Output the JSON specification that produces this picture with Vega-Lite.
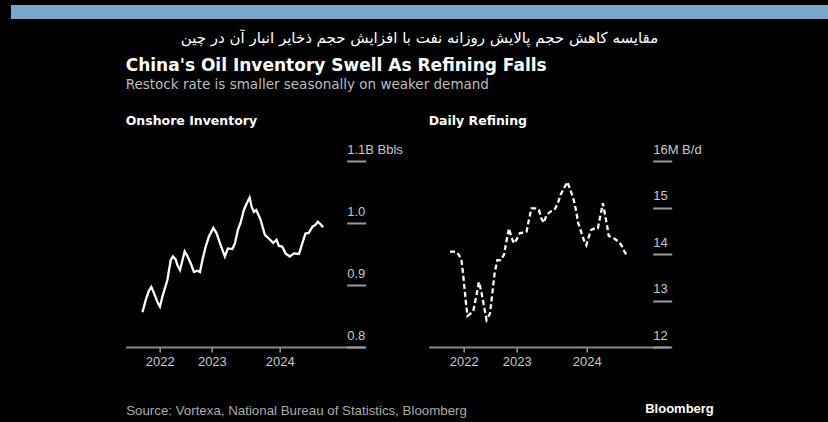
{
  "$schema": "https://vega.github.io/schema/vega-lite/v6.json",
  "background": "black",
  "padding": {"left": 11, "top": 5, "right": 0, "bottom": 8},
  "spacing": 11,
  "center": true,
  "datasets": {
    "inventory": [
      {"date": "2021-12-24", "value": 0.856},
      {"date": "2022-01-11", "value": 0.876},
      {"date": "2022-01-28", "value": 0.891},
      {"date": "2022-02-10", "value": 0.897},
      {"date": "2022-02-24", "value": 0.887},
      {"date": "2022-03-18", "value": 0.870},
      {"date": "2022-03-28", "value": 0.865},
      {"date": "2022-04-10", "value": 0.881},
      {"date": "2022-04-24", "value": 0.895},
      {"date": "2022-05-07", "value": 0.908},
      {"date": "2022-05-25", "value": 0.940},
      {"date": "2022-06-06", "value": 0.946},
      {"date": "2022-06-21", "value": 0.941},
      {"date": "2022-06-30", "value": 0.932},
      {"date": "2022-07-14", "value": 0.924},
      {"date": "2022-07-27", "value": 0.940},
      {"date": "2022-08-08", "value": 0.954},
      {"date": "2022-08-22", "value": 0.947},
      {"date": "2022-09-09", "value": 0.935},
      {"date": "2022-09-27", "value": 0.921},
      {"date": "2022-10-15", "value": 0.923},
      {"date": "2022-10-29", "value": 0.921},
      {"date": "2022-11-11", "value": 0.940},
      {"date": "2022-11-29", "value": 0.962},
      {"date": "2022-12-16", "value": 0.978},
      {"date": "2023-01-09", "value": 0.992},
      {"date": "2023-01-27", "value": 0.983},
      {"date": "2023-02-14", "value": 0.967},
      {"date": "2023-03-12", "value": 0.946},
      {"date": "2023-03-28", "value": 0.959},
      {"date": "2023-04-21", "value": 0.958},
      {"date": "2023-05-05", "value": 0.967},
      {"date": "2023-05-21", "value": 0.989},
      {"date": "2023-06-04", "value": 1.000},
      {"date": "2023-06-22", "value": 1.021},
      {"date": "2023-07-11", "value": 1.034},
      {"date": "2023-07-23", "value": 1.041},
      {"date": "2023-08-03", "value": 1.026},
      {"date": "2023-08-15", "value": 1.018},
      {"date": "2023-08-28", "value": 1.021},
      {"date": "2023-09-20", "value": 1.005},
      {"date": "2023-10-13", "value": 0.981},
      {"date": "2023-11-03", "value": 0.975},
      {"date": "2023-11-27", "value": 0.968},
      {"date": "2023-12-15", "value": 0.973},
      {"date": "2023-12-27", "value": 0.963},
      {"date": "2024-01-14", "value": 0.962},
      {"date": "2024-02-01", "value": 0.951},
      {"date": "2024-02-24", "value": 0.946},
      {"date": "2024-03-17", "value": 0.951},
      {"date": "2024-04-13", "value": 0.950},
      {"date": "2024-05-01", "value": 0.967},
      {"date": "2024-05-18", "value": 0.983},
      {"date": "2024-06-05", "value": 0.984},
      {"date": "2024-06-24", "value": 0.994},
      {"date": "2024-07-11", "value": 0.997},
      {"date": "2024-07-23", "value": 1.002},
      {"date": "2024-08-07", "value": 0.998},
      {"date": "2024-08-21", "value": 0.993}
    ],
    "refining": [
      {"date": "2022-01-17", "value": 14.05},
      {"date": "2022-02-16", "value": 14.05},
      {"date": "2022-03-05", "value": 13.98},
      {"date": "2022-03-18", "value": 13.87},
      {"date": "2022-03-28", "value": 13.51},
      {"date": "2022-04-09", "value": 13.01},
      {"date": "2022-04-18", "value": 12.67},
      {"date": "2022-05-05", "value": 12.72},
      {"date": "2022-05-19", "value": 12.78},
      {"date": "2022-06-06", "value": 13.15},
      {"date": "2022-06-17", "value": 13.40},
      {"date": "2022-06-30", "value": 13.19},
      {"date": "2022-07-14", "value": 12.87},
      {"date": "2022-07-27", "value": 12.58},
      {"date": "2022-08-14", "value": 12.72},
      {"date": "2022-08-26", "value": 13.15},
      {"date": "2022-09-07", "value": 13.58},
      {"date": "2022-09-21", "value": 13.87},
      {"date": "2022-10-08", "value": 13.87},
      {"date": "2022-10-26", "value": 13.98},
      {"date": "2022-11-09", "value": 14.30},
      {"date": "2022-11-21", "value": 14.55},
      {"date": "2022-12-03", "value": 14.37},
      {"date": "2022-12-17", "value": 14.23},
      {"date": "2023-01-01", "value": 14.32},
      {"date": "2023-01-17", "value": 14.45},
      {"date": "2023-02-07", "value": 14.46},
      {"date": "2023-02-21", "value": 14.48},
      {"date": "2023-03-05", "value": 14.73},
      {"date": "2023-03-18", "value": 14.98},
      {"date": "2023-04-09", "value": 14.98},
      {"date": "2023-04-26", "value": 14.95},
      {"date": "2023-05-09", "value": 14.77},
      {"date": "2023-05-22", "value": 14.67},
      {"date": "2023-06-05", "value": 14.84},
      {"date": "2023-06-26", "value": 14.91},
      {"date": "2023-07-17", "value": 14.95},
      {"date": "2023-08-03", "value": 15.09},
      {"date": "2023-08-17", "value": 15.27},
      {"date": "2023-09-04", "value": 15.41},
      {"date": "2023-09-21", "value": 15.55},
      {"date": "2023-10-05", "value": 15.41},
      {"date": "2023-10-23", "value": 15.20},
      {"date": "2023-11-04", "value": 14.98},
      {"date": "2023-11-18", "value": 14.66},
      {"date": "2023-12-05", "value": 14.45},
      {"date": "2023-12-17", "value": 14.30},
      {"date": "2023-12-30", "value": 14.19},
      {"date": "2024-01-12", "value": 14.37},
      {"date": "2024-01-24", "value": 14.52},
      {"date": "2024-02-12", "value": 14.55},
      {"date": "2024-02-28", "value": 14.55},
      {"date": "2024-03-13", "value": 14.84},
      {"date": "2024-03-25", "value": 15.09},
      {"date": "2024-04-04", "value": 14.88},
      {"date": "2024-04-17", "value": 14.59},
      {"date": "2024-04-25", "value": 14.39},
      {"date": "2024-05-21", "value": 14.34},
      {"date": "2024-06-16", "value": 14.26},
      {"date": "2024-06-30", "value": 14.19},
      {"date": "2024-07-16", "value": 14.05},
      {"date": "2024-07-30", "value": 13.96}
    ]
  },
  "config": {
    "font": "Liberation Sans",
    "view": {"stroke": null},
    "axis": {
      "grid": false,
      "labelFont": "Liberation Sans",
      "labelFontSize": 13,
      "labelColor": "#c8c8c8",
      "tickColor": "#9a9a9a",
      "domainColor": "#8a8a8a",
      "labelFlush": false,
      "labelOverlap": false,
      "labelBound": false,
      "titleFont": "Liberation Sans"
    },
    "title": {"font": "DejaVu Sans", "subtitleFont": "DejaVu Sans"}
  },
  "vconcat": [
    {
      "width": 817,
      "height": 14,
      "view": {"fill": "#7ba7cb", "stroke": null},
      "title": {
        "text": "مقایسه کاهش حجم پالایش روزانه نفت با افزایش حجم ذخایر انبار آن در چین",
        "orient": "bottom",
        "anchor": "middle",
        "font": "DejaVu Sans",
        "fontSize": 15,
        "fontWeight": "normal",
        "color": "white",
        "offset": 12
      },
      "data": {"values": [{}]},
      "mark": {"type": "text"},
      "encoding": {"text": {"value": ""}}
    },
    {
      "title": {
        "text": "China's Oil Inventory Swell As Refining Falls",
        "subtitle": "Restock rate is smaller seasonally on weaker demand",
        "anchor": "start",
        "fontSize": 17,
        "fontWeight": "bold",
        "color": "white",
        "subtitleFontSize": 13.5,
        "subtitleColor": "#bdbdbd",
        "subtitlePadding": 3,
        "offset": 22
      },
      "bounds": "flush",
      "spacing": 65,
      "hconcat": [
        {
          "width": 238,
          "height": 186,
          "title": {"text": "Onshore Inventory", "anchor": "start", "fontSize": 12.5, "fontWeight": "bold", "color": "white", "offset": 16},
          "data": {"name": "inventory"},
          "mark": {"type": "line", "color": "white", "strokeWidth": 2.3},
          "encoding": {
            "x": {
              "field": "date",
              "type": "temporal",
              "scale": {"domain": [{"year": 2021, "month": 9, "date": 25}, {"year": 2025, "month": 3, "date": 27}], "nice": false},
              "axis": {
                "values": [{"year": 2022, "month": 3, "date": 27}, {"year": 2023, "month": 1, "date": 1}, {"year": 2024, "month": 1, "date": 1}],
                "labelExpr": "timeFormat(datum.value, '%Y')",
                "tickSize": 5,
                "tickWidth": 1.5,
                "labelPadding": 3,
                "domainWidth": 2,
                "title": "Source: Vortexa, National Bureau of Statistics, Bloomberg",
                "titleAnchor": "start",
                "titleAlign": "left",
                "titleFontSize": 13.3,
                "titleFontWeight": "normal",
                "titleColor": "#aaaaaa",
                "titlePadding": 35
              }
            },
            "y": {
              "field": "value",
              "type": "quantitative",
              "scale": {"domain": [0.8, 1.1], "nice": false, "zero": false},
              "axis": {
                "orient": "right",
                "values": [0.8, 0.9, 1.0, 1.1],
                "offset": -17,
                "tickSize": 19,
                "tickWidth": 2,
                "domain": false,
                "labelAlign": "left",
                "labelBaseline": "alphabetic",
                "labelPadding": -19,
                "labelOffset": -8,
                "labelExpr": "datum.value > 1.05 ? '1.1B Bbls' : format(datum.value, '.1f')",
                "title": null
              }
            }
          }
        },
        {
          "width": 241,
          "height": 186,
          "title": {"text": "Daily Refining", "anchor": "start", "fontSize": 12.5, "fontWeight": "bold", "color": "white", "offset": 16},
          "data": {"name": "refining"},
          "mark": {"type": "line", "color": "white", "strokeWidth": 2.3, "strokeDash": [5, 3]},
          "encoding": {
            "x": {
              "field": "date",
              "type": "temporal",
              "scale": {"domain": [{"year": 2021, "month": 9, "date": 28}, {"year": 2025, "month": 3, "date": 9}], "nice": false},
              "axis": {
                "values": [{"year": 2022, "month": 3, "date": 30}, {"year": 2023, "month": 1, "date": 1}, {"year": 2024, "month": 1, "date": 1}],
                "labelExpr": "timeFormat(datum.value, '%Y')",
                "tickSize": 5,
                "tickWidth": 1.5,
                "labelPadding": 3,
                "domainWidth": 2,
                "title": "Bloomberg",
                "titleX": 216,
                "titleAlign": "left",
                "titleFontSize": 13,
                "titleFontWeight": "bold",
                "titleColor": "white",
                "titlePadding": 34
              }
            },
            "y": {
              "field": "value",
              "type": "quantitative",
              "scale": {"domain": [12, 16], "nice": false, "zero": false},
              "axis": {
                "orient": "right",
                "values": [12, 13, 14, 15, 16],
                "offset": -17,
                "tickSize": 19,
                "tickWidth": 2,
                "domain": false,
                "labelAlign": "left",
                "labelBaseline": "alphabetic",
                "labelPadding": -19,
                "labelOffset": -8,
                "labelExpr": "datum.value == 16 ? '16M B/d' : format(datum.value, 'd')",
                "title": null
              }
            }
          }
        }
      ]
    }
  ]
}
